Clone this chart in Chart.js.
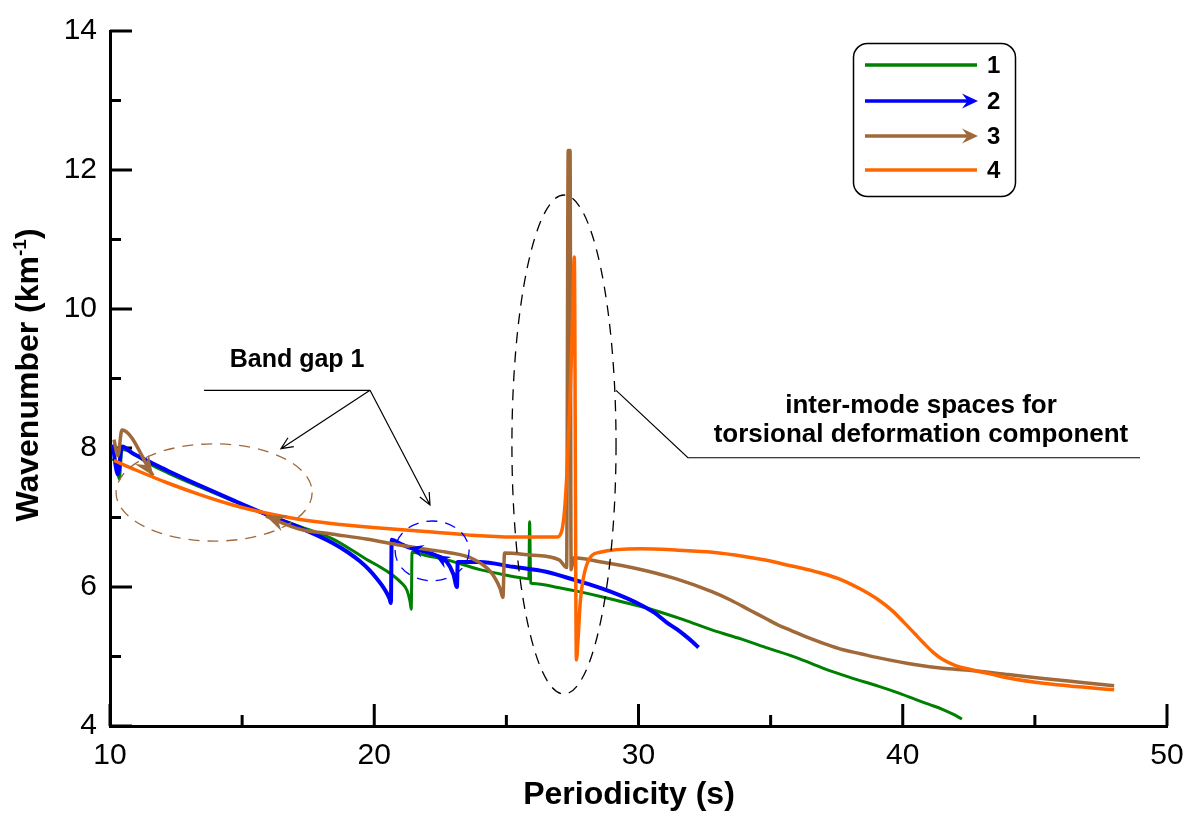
<!DOCTYPE html>
<html>
<head>
<meta charset="utf-8">
<script src="https://cdn.jsdelivr.net/npm/chart.js@4.4.0/dist/chart.umd.min.js"></script>
<style>
  html, body { margin: 0; padding: 0; background: #fff; }
  #wrap { width: 1202px; height: 819px; position: relative; }
</style>
</head>
<body>
<div id="wrap"><canvas id="chart"></canvas></div>
<script>
// curve 1 (green)
const x1 = [10.1, 10.25, 10.35, 10.45, 10.6, 11.0, 11.5, 12.2, 13.4, 14.65, 15.94, 17.2, 18.44, 19.7, 20.3,
  20.7, 21.0, 21.24, 21.35, 21.4, 21.43, 22.0, 22.75, 24.0, 25.0, 25.6, 25.85, 25.88, 25.92, 26.0,
  27.0, 27.8, 28.6, 30.56, 31.7, 32.8, 33.9, 34.9, 36.0, 37.0, 38.0, 39.1, 39.8, 40.5, 41.0,
  41.5, 41.9, 42.24];
const y1 = [7.85, 7.75, 7.55, 7.98, 7.97, 7.89, 7.77, 7.64, 7.44, 7.24, 7.04, 6.87, 6.69, 6.4, 6.27,
  6.17, 6.07, 5.95, 5.8, 5.68, 6.5, 6.45, 6.39, 6.25, 6.17, 6.13, 6.12, 6.94, 6.06, 6.05,
  5.99, 5.93, 5.86, 5.67, 5.53, 5.38, 5.25, 5.12, 4.98, 4.83, 4.7, 4.57, 4.48, 4.38, 4.31,
  4.24, 4.17, 4.10];

// curve 2 (blue, with arrows)
const x2 = [10.1, 10.3, 10.45, 10.87, 11.5, 12.2, 13.4, 14.65, 15.94, 17.2, 18.44, 19.0, 19.46, 19.8, 20.1,
  20.3, 20.48, 20.58, 20.63, 20.66, 21.0, 21.3, 22.0, 22.3, 22.75, 23.0, 23.13, 23.16, 24.0, 25.25,
  26.5, 27.67, 28.6, 29.3, 30.0, 30.6, 31.1, 31.5, 31.8, 32.05, 32.27];
const y2 = [8.05, 7.62, 8.02, 7.92, 7.8, 7.67, 7.46, 7.25, 7.04, 6.85, 6.63, 6.5, 6.37, 6.25, 6.12,
  6.02, 5.91, 5.83, 5.77, 6.68, 6.62, 6.57, 6.5, 6.46, 6.36, 6.18, 6.0, 6.36, 6.36, 6.29,
  6.22, 6.09, 5.98, 5.88, 5.76, 5.63, 5.48, 5.38, 5.29, 5.21, 5.13];

// curve 3 (brown, with arrows) - null = break in the line
const x3 = [10.15, 10.3, 10.45, 11.63, 13.5, 15.9, 17.2, 18.44, 19.7, 21.0, 22.2, 22.75, 23.7, 24.4, 24.76,
  24.87, 24.93, 25.9, 27.0, 27.28, 27.34, 27.41, 27.45, 27.55, 28.6, 30.0, 31.4, 32.8, 33.5, 34.2,
  34.8, 35.3, 35.8, 36.3, 37.0, 37.7, 38.4, 39.1, 40.5, 41.5, 42.6, 44.0, 45.4, 46.7, 48.0];
const y3 = [8.12, 7.89, 8.26, 7.6, null, 7.02, 6.83, 6.76, 6.69, 6.6, 6.53, 6.5, 6.41, 6.22, 5.98,
  5.85, 6.49, 6.46, 6.39, 6.28, 12.28, 12.28, 6.25, 6.42, 6.36, 6.26, 6.12, 5.93, 5.81, 5.67,
  5.55, 5.45, 5.37, 5.29, 5.19, 5.1, 5.04, 4.98, 4.88, 4.83, 4.8, 4.74, 4.68, 4.63, 4.58];

// curve 4 (orange)
const x4 = [10.15, 11.0, 12.16, 13.4, 14.65, 15.94, 17.2, 18.44, 20.2, 22.2, 23.5, 25.25, 26.9, 27.09, 27.2,
  27.3, 27.4, 27.5, 27.57, 27.65, 27.72, 27.8, 28.04, 28.54, 30.06, 31.5, 32.8, 34.0, 34.9, 35.7,
  36.3, 37.0, 37.7, 38.4, 39.1, 39.6, 40.07, 40.45, 40.8, 41.15, 41.5, 42.0, 42.6, 43.3, 44.0,
  45.4, 46.8, 48.0];
const y4 = [7.82, 7.68, 7.5, 7.33, 7.18, 7.06, 6.97, 6.91, 6.85, 6.79, 6.75, 6.72, 6.72, 6.8, 7.1,
  7.7, 8.6, 9.8, 10.75, 4.95, 5.3, 5.8, 6.32, 6.5, 6.55, 6.53, 6.5, 6.44, 6.38, 6.31,
  6.26, 6.19, 6.1, 5.97, 5.81, 5.66, 5.48, 5.33, 5.19, 5.06, 4.96, 4.87, 4.81, 4.75, 4.69,
  4.61, 4.56, 4.52];

const seriesLabels = ['1', '2', '3', '4'];
const xTicks = [10, 20, 30, 40, 50];
const xMinor = [15, 25, 35, 45];
const yTicks = [4, 6, 8, 10, 12, 14];
const yMinor = [5, 7, 9, 11, 13];

// direction markers: [dataset, from index, tip index]
const arrowMarks = [[1, 22, 21], [1, 24, 23], [2, 2, 3], [2, 6, 5]];

const colors = ['#008000', '#0000ff', '#a0693a', '#ff6600'];
const widths = [3, 4, 3.5, 3.5];
const FONT = "'Liberation Sans', Arial, sans-serif";

const pts = (xs, ys) => xs.map((v, i) => ({ x: v, y: ys[i] }));

function arrowHead(ctx, tx, ty, ang, len, wid, color) {
  ctx.save();
  ctx.translate(tx, ty);
  ctx.rotate(ang);
  ctx.fillStyle = color;
  ctx.beginPath();
  ctx.moveTo(0, 0);
  ctx.lineTo(-len, -wid / 2);
  ctx.lineTo(-len * 0.65, 0);
  ctx.lineTo(-len, wid / 2);
  ctx.closePath();
  ctx.fill();
  ctx.restore();
}

function openArrow(ctx, x0, y0, x1, y1) {
  const a = Math.atan2(y1 - y0, x1 - x0), L = 13, s = 0.42;
  ctx.beginPath();
  ctx.moveTo(x0, y0); ctx.lineTo(x1, y1);
  ctx.moveTo(x1 - L * Math.cos(a - s), y1 - L * Math.sin(a - s));
  ctx.lineTo(x1, y1);
  ctx.lineTo(x1 - L * Math.cos(a + s), y1 - L * Math.sin(a + s));
  ctx.stroke();
}

const whiteBg = {
  id: 'whiteBg',
  beforeDraw(chart) {
    const c = chart.ctx;
    c.save(); c.fillStyle = '#fff'; c.fillRect(0, 0, chart.width, chart.height); c.restore();
  }
};

// inward tick marks
const innerTicks = {
  id: 'innerTicks',
  beforeDatasetsDraw(chart) {
    const { ctx, chartArea: a, scales: { x, y } } = chart;
    ctx.save();
    ctx.strokeStyle = '#000';
    ctx.lineWidth = 3;
    const tick = (x0, y0, x1, y1) => { ctx.beginPath(); ctx.moveTo(x0, y0); ctx.lineTo(x1, y1); ctx.stroke(); };
    xTicks.forEach(v => { const p = x.getPixelForValue(v); tick(p, a.bottom, p, a.bottom - 22); });
    xMinor.forEach(v => { const p = x.getPixelForValue(v); tick(p, a.bottom, p, a.bottom - 11); });
    yTicks.forEach(v => { const p = y.getPixelForValue(v); tick(a.left, p, a.left + 22, p); });
    yMinor.forEach(v => { const p = y.getPixelForValue(v); tick(a.left, p, a.left + 11, p); });
    ctx.restore();
  }
};

const arrows = {
  id: 'arrows',
  afterDatasetsDraw(chart) {
    const ctx = chart.ctx;
    arrowMarks.forEach(([ds, from, tip]) => {
      const d = chart.getDatasetMeta(ds).data;
      const a = Math.atan2(d[tip].y - d[from].y, d[tip].x - d[from].x);
      const big = ds === 2;
      arrowHead(ctx, d[tip].x, d[tip].y, a, big ? 20 : 15, big ? 17 : 13, colors[ds]);
    });
  }
};

const decor = {
  id: 'decor',
  afterDraw(chart) {
    const { ctx, scales: { x, y } } = chart;
    const px = v => x.getPixelForValue(v), py = v => y.getPixelForValue(v);
    ctx.save();

    // dashed ellipses
    const ell = (cx, cy, rx, ry, col) => {
      ctx.strokeStyle = col; ctx.lineWidth = 1.3; ctx.setLineDash([11, 8]);
      ctx.beginPath();
      ctx.ellipse(px(cx), py(cy), px(cx + rx) - px(cx), py(cy) - py(cy + ry), 0, 0, Math.PI * 2);
      ctx.stroke();
    };
    ell(13.94, 7.36, 3.71, 0.70, colors[2]);
    ell(22.19, 6.52, 1.40, 0.43, colors[1]);
    ell(27.18, 8.05, 1.97, 3.59, '#000');
    ctx.setLineDash([]);

    // pointer lines
    ctx.strokeStyle = '#000'; ctx.lineWidth = 1.2;
    ctx.beginPath(); ctx.moveTo(px(13.56), py(8.83)); ctx.lineTo(px(19.84), py(8.83)); ctx.stroke();
    openArrow(ctx, px(19.84), py(8.83), px(16.47), py(7.99));
    openArrow(ctx, px(19.84), py(8.83), px(22.11), py(7.18));
    ctx.beginPath();
    ctx.moveTo(px(29.15), py(8.83)); ctx.lineTo(px(31.87), py(7.86)); ctx.lineTo(px(48.98), py(7.86));
    ctx.stroke();

    // annotation text
    ctx.fillStyle = '#000';
    ctx.textAlign = 'center'; ctx.textBaseline = 'middle';
    ctx.font = 'bold 25px ' + FONT;
    ctx.fillText('Band gap 1', px(17.08), py(9.26));
    ctx.font = 'bold 26px ' + FONT;
    ctx.fillText('inter-mode spaces for', px(40.69), py(8.6));
    ctx.fillText('torsional deformation component', px(40.69), py(8.19));

    // axis titles
    ctx.font = 'bold 32px ' + FONT;
    ctx.textBaseline = 'alphabetic';
    ctx.fillText('Periodicity (s)', 629, 804);

    ctx.save();
    ctx.translate(38, 375);
    ctx.rotate(-Math.PI / 2);
    const fBig = 'bold 32px ' + FONT, fSup = 'bold 19px ' + FONT;
    const tA = 'Wavenumber (km', tB = '-1', tC = ')';
    ctx.font = fBig; const wA = ctx.measureText(tA).width, wC = ctx.measureText(tC).width;
    ctx.font = fSup; const wB = ctx.measureText(tB).width;
    let sx = -(wA + wB + wC) / 2;
    ctx.textAlign = 'left';
    ctx.font = fBig; ctx.fillText(tA, sx, 0); sx += wA;
    ctx.font = fSup; ctx.fillText(tB, sx, -12); sx += wB;
    ctx.font = fBig; ctx.fillText(tC, sx, 0);
    ctx.restore();

    // legend box
    ctx.strokeStyle = '#000'; ctx.lineWidth = 1.5;
    ctx.beginPath();
    ctx.roundRect(853.5, 43.5, 162, 153, 14);
    ctx.stroke();
    const rows = [65, 101, 136, 170];
    seriesLabels.forEach((lab, i) => {
      ctx.strokeStyle = colors[i]; ctx.lineWidth = 3.5;
      ctx.beginPath(); ctx.moveTo(865, rows[i]); ctx.lineTo(i === 1 || i === 2 ? 968 : 977, rows[i]); ctx.stroke();
      if (i === 1 || i === 2) arrowHead(ctx, 978, rows[i], 0, 16, 15, colors[i]);
      ctx.fillStyle = '#000';
      ctx.font = 'bold 24px ' + FONT;
      ctx.textAlign = 'left'; ctx.textBaseline = 'middle';
      ctx.fillText(lab, 987, rows[i] + 1);
    });
    ctx.restore();
  }
};

const ctx = document.getElementById('chart').getContext('2d');

const datasets = [[x1, y1], [x2, y2], [x3, y3], [x4, y4]].map(([xs, ys], i) => ({
  label: seriesLabels[i],
  data: pts(xs, ys),
  borderColor: colors[i],
  borderWidth: widths[i],
  pointRadius: 0,
  fill: false,
  spanGaps: false,
  cubicInterpolationMode: 'monotone',
  order: 3 - i
}));

const chart = new Chart(ctx, {
  type: 'line',
  data: { datasets: datasets },
  options: {
    responsive: true,
    maintainAspectRatio: false,
    animation: false,
    parsing: false,
    layout: { padding: { left: 0, right: 35, top: 24, bottom: 0 } },
    plugins: { legend: { display: false }, tooltip: { enabled: false } },
    scales: {
      x: {
        type: 'linear',
        min: 10, max: 50,
        afterBuildTicks: s => { s.ticks = xTicks.map(v => ({ value: v })); },
        afterFit: s => { s.height = 93; },
        grid: { display: false, drawTicks: false },
        border: { display: true, color: '#000', width: 3 },
        ticks: { color: '#000', padding: 12, maxRotation: 0, autoSkip: false,
          font: { family: FONT, size: 30 } }
      },
      y: {
        type: 'linear',
        min: 4, max: 14,
        afterBuildTicks: s => { s.ticks = yTicks.map(v => ({ value: v })); },
        afterFit: s => { s.width = 110; },
        grid: { display: false, drawTicks: false },
        border: { display: true, color: '#000', width: 3 },
        ticks: { color: '#000', padding: 13, font: { family: FONT, size: 30 } }
      }
    }
  },
  plugins: [whiteBg, innerTicks, arrows, decor]
});
</script>
</body>
</html>
